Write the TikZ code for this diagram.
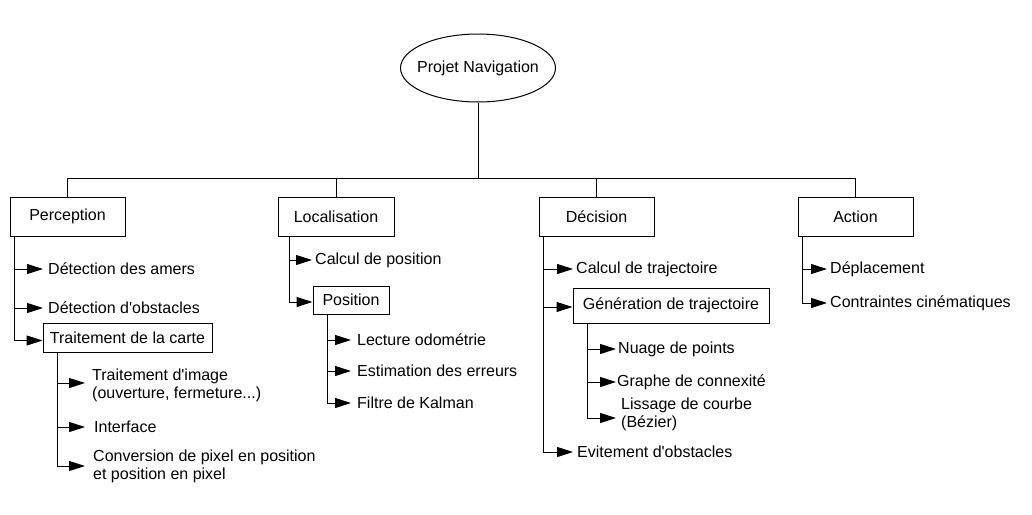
\documentclass[tikz,border=0pt]{standalone}
\usepackage{fontspec}
\setmainfont{Liberation Sans}
\usetikzlibrary{arrows.meta,calc,shapes.geometric}
\newcommand{\apo}{\textquotesingle}
\begin{document}
\begin{tikzpicture}[x=1pt,y=-1pt,
  every node/.style={font=\fontsize{16}{18}\selectfont},
  box/.style={draw, line width=1pt, inner sep=0pt},
  lbl/.style={anchor=west, inner sep=0pt, align=left},
  conn/.style={line width=1pt, draw=black},
  arr/.style={conn, -{Triangle[length=16pt,width=10pt]}},
]
\useasboundingbox (0,0) rectangle (1032,514);

% root
\node[draw, ellipse, line width=1pt, minimum width=155pt, minimum height=68pt, inner sep=0pt] (root) at (478,68) {\makebox[0pt]{Projet Navigation}};

% level 1
\node[box, minimum width=115pt, minimum height=39pt] (perc) at (67.5,216.5) {Perception};
\node[box, minimum width=116pt, minimum height=39pt] (loc) at (336,216.5) {Localisation};
\node[box, minimum width=115pt, minimum height=39pt] (dec) at (596.5,216.5) {Décision};
\node[box, minimum width=115pt, minimum height=39pt] (act) at (855.5,216.5) {Action};

\coordinate (bus) at (476,178);
\draw[conn] (root.south) -- (root.south |- bus);
\draw[conn] (perc.north) -- (perc.north |- bus) -| (act.north);
\draw[conn] (loc.north) -- (loc.north |- bus);
\draw[conn] (dec.north) -- (dec.north |- bus);

% Perception
\node[lbl] (p1) at (48,269) {Détection des amers};
\node[lbl] (p2) at (48,308) {Détection d\apo obstacles};
\node[box, minimum width=169pt, minimum height=29pt] (p3) at (127.5,337.5) {Traitement de la carte};
\coordinate (ptr) at ($(perc.south west)+(5,0)$);
\draw[arr] (ptr) |- ([xshift=-5pt]p1.west);
\draw[arr] (ptr) |- ([xshift=-5pt]p2.west);
\draw[arr] (ptr) |- ([yshift=-3pt]p3.west);

% Traitement de la carte
\node[lbl] (t1) at (92,385) {Traitement d\apo image\\(ouverture, fermeture...)};
\node[lbl] (t2) at (94,427) {Interface};
\node[lbl] (t3) at (93,466) {Conversion de pixel en position\\et position en pixel};
\coordinate (ttr) at ($(p3.south west)+(15,0)$);
\draw[arr] (ttr) |- ([xshift=-7pt,yshift=2pt]t1.west);
\draw[arr] (ttr) |- ([xshift=-9pt]t2.west);
\draw[arr] (ttr) |- ([xshift=-8pt]t3.west);

% Localisation
\node[lbl] (l1) at (315,260) {Calcul de position};
\node[box, minimum width=76pt, minimum height=28pt] (l2) at (351,300) {Position};
\coordinate (ltr) at ($(loc.south west)+(12,0)$);
\draw[arr] (ltr) |- ([xshift=-3pt]l1.west);
\draw[arr] (ltr) |- ([yshift=-2pt]l2.west);

% Position
\node[lbl] (q1) at (357,340) {Lecture odométrie};
\node[lbl] (q2) at (357,371) {Estimation des erreurs};
\node[lbl] (q3) at (357,403) {Filtre de Kalman};
\coordinate (qtr) at ($(l2.south west)+(15,0)$);
\draw[arr] (qtr) |- ([xshift=-6pt]q1.west);
\draw[arr] (qtr) |- ([xshift=-6pt]q2.west);
\draw[arr] (qtr) |- ([xshift=-6pt]q3.west);

% Décision
\node[lbl] (d1) at (576,269) {Calcul de trajectoire};
\node[box, minimum width=196pt, minimum height=35pt] (d2) at (671,305.5) {Génération de trajectoire};
\node[lbl] (d3) at (577,452) {Evitement d\apo obstacles};
\coordinate (dtr) at ($(dec.south west)+(5,0)$);
\draw[arr] (dtr) |- ([xshift=-3pt]d1.west);
\draw[arr] (dtr) |- ([yshift=-1.5pt]d2.west);
\draw[arr] (dtr) |- ([xshift=-4pt]d3.west);

% Génération de trajectoire
\node[lbl] (g1) at (618,349) {Nuage de points};
\node[lbl] (g2) at (617,382) {Graphe de connexité};
\node[lbl] (g3) at (621,414) {Lissage de courbe\\(Bézier)};
\coordinate (gtr) at ($(d2.south west)+(15,0)$);
\draw[arr] (gtr) |- ([xshift=-2pt]g1.west);
\draw[arr] (gtr) |- ([xshift=-1pt]g2.west);
\draw[arr] (gtr) |- ([xshift=-5pt,yshift=-4pt]g3.west);

% Action
\node[lbl] (a1) at (830,269) {Déplacement};
\node[lbl] (a2) at (830,303) {Contraintes cinématiques};
\coordinate (atr) at ($(act.south west)+(5,0)$);
\draw[arr] (atr) |- ([xshift=-3pt]a1.west);
\draw[arr] (atr) |- ([xshift=-3pt]a2.west);
\end{tikzpicture}
\end{document}
